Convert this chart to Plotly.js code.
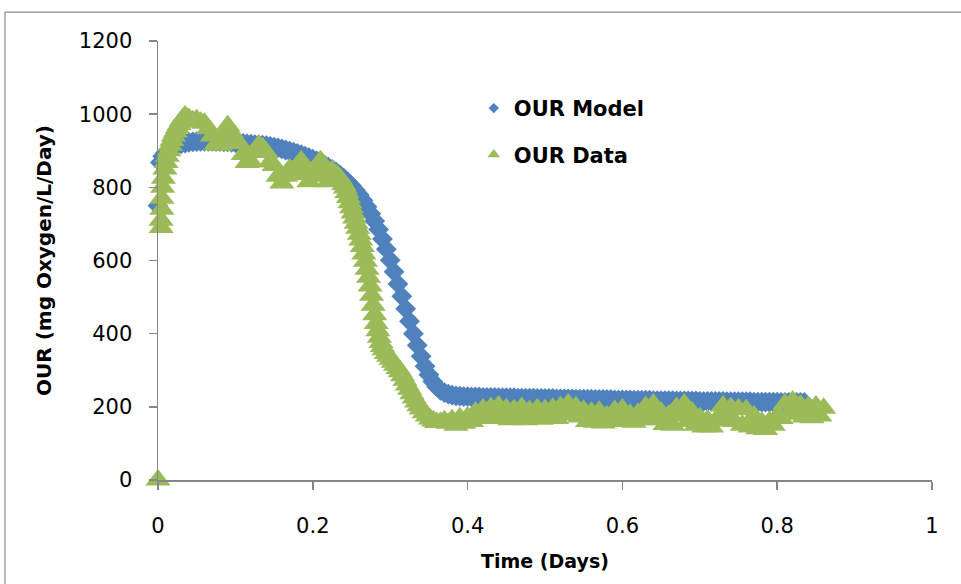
<!DOCTYPE html>
<html>
<head>
<meta charset="utf-8">
<script src="https://cdn.plot.ly/plotly-3.0.1.min.js"></script>
<style>
html,body{margin:0;padding:0;background:#fff;}
#chart{width:961px;height:584px;}
</style>
</head>
<body>
<div id="chart"></div>
<script>
// ---- Data ----
const modelTime = [0,0.003,0.006,0.01,0.015,0.02,0.025,0.03,0.035,0.04,0.045,0.05,0.055,0.06,0.065,0.07,0.075,0.08,0.085,0.09,0.095,0.1,0.105,0.11,0.115,0.12,0.125,0.13,0.135,0.14,0.145,0.15,0.155,0.16,0.165,0.17,0.175,0.18,0.185,0.19,0.195,0.2,0.205,0.21,0.215,0.22,0.225,0.23,0.235,0.24,0.245,0.25,0.255,0.26,0.265,0.27,0.275,0.28,0.285,0.29,0.295,0.3,0.305,0.31,0.315,0.32,0.325,0.33,0.335,0.34,0.345,0.35,0.355,0.36,0.365,0.37,0.375,0.38,0.385,0.39,0.395,0.4,0.405,0.41,0.415,0.42,0.425,0.43,0.435,0.44,0.445,0.45,0.455,0.46,0.465,0.47,0.475,0.48,0.485,0.49,0.495,0.5,0.505,0.51,0.515,0.52,0.525,0.53,0.535,0.54,0.545,0.55,0.555,0.56,0.565,0.57,0.575,0.58,0.585,0.59,0.595,0.6,0.605,0.61,0.615,0.62,0.625,0.63,0.635,0.64,0.645,0.65,0.655,0.66,0.665,0.67,0.675,0.68,0.685,0.69,0.695,0.7,0.705,0.71,0.715,0.72,0.725,0.73,0.735,0.74,0.745,0.75,0.755,0.76,0.765,0.77,0.775,0.78,0.785,0.79,0.795,0.8,0.805,0.81,0.815,0.82,0.825,0.83,0.835,0.84,0.845,0.85,0.855,0.86];
const modelOUR = [750,868,885,895,904,911,916,919,921,923,924,925,926,926,926,926,925,925,924,924,923,922,921,920,919,918,917,916,915,914,912,910,908,905,902,899,896,893,889,885,881,877,872,867,861,855,849,842,834,825,815,804,792,779,764,747,728,708,685,659,631,601,569,536,502,468,434,400,368,338,311,288,269,255,245,239,235,232,230,229,228,228,227,227,227,226,226,226,226,225,225,225,225,225,224,224,224,224,224,223,223,223,223,223,222,222,222,222,222,221,221,221,221,221,220,220,220,220,220,219,219,219,219,219,218,218,218,218,218,217,217,217,217,217,217,216,216,216,216,216,216,215,215,215,215,215,215,215,214,214,214,214,214,214,214,213,213,213,213,213,213,213,212,212,212,212,212,212,212];

const dataTime = [0,0.004,0.004,0.005,0.005,0.006,0.007,0.009,0.0105,0.012,0.014,0.016,0.018,0.02,0.0225,0.025,0.0275,0.03,0.0325,0.035,0.04,0.045,0.05,0.055,0.06,0.065,0.07,0.075,0.08,0.085,0.09,0.095,0.1,0.105,0.11,0.115,0.12,0.125,0.13,0.135,0.14,0.145,0.15,0.155,0.16,0.165,0.17,0.175,0.18,0.185,0.19,0.195,0.2,0.205,0.21,0.215,0.22,0.225,0.23,0.233,0.236,0.24,0.242,0.244,0.246,0.248,0.25,0.252,0.254,0.256,0.258,0.26,0.262,0.264,0.266,0.268,0.27,0.272,0.274,0.276,0.278,0.28,0.282,0.284,0.286,0.288,0.29,0.292,0.295,0.298,0.301,0.304,0.307,0.31,0.313,0.316,0.319,0.322,0.325,0.328,0.331,0.334,0.337,0.34,0.344,0.348,0.352,0.356,0.36,0.365,0.37,0.375,0.38,0.385,0.39,0.395,0.4,0.405,0.41,0.415,0.42,0.425,0.43,0.435,0.44,0.445,0.45,0.455,0.46,0.465,0.47,0.475,0.48,0.485,0.49,0.495,0.5,0.505,0.51,0.515,0.52,0.525,0.53,0.535,0.54,0.545,0.55,0.555,0.56,0.565,0.57,0.575,0.58,0.585,0.59,0.595,0.6,0.605,0.61,0.615,0.62,0.625,0.63,0.635,0.64,0.645,0.65,0.655,0.66,0.665,0.67,0.675,0.68,0.685,0.69,0.695,0.7,0.705,0.71,0.715,0.72,0.725,0.73,0.735,0.74,0.745,0.75,0.755,0.76,0.765,0.77,0.775,0.78,0.785,0.79,0.795,0.8,0.805,0.81,0.815,0.82,0.825,0.83,0.835,0.84,0.845,0.85,0.855,0.86];
const dataOUR = [0,690,710,740,770,800,825,850,868,885,900,915,928,940,951,962,972,982,989,995,988,982,985,978,975,960,940,918,915,940,968,950,930,920,890,868,870,895,915,908,895,870,860,830,812,830,850,835,860,873,840,815,845,830,873,850,815,845,835,830,822,808,798,786,772,758,744,730,716,702,688,672,656,638,618,598,576,554,530,505,478,452,428,408,390,376,365,356,346,338,330,322,314,305,296,285,273,260,248,236,224,213,203,194,184,175,167,161,157,158,162,155,165,150,170,155,172,160,185,168,194,175,198,170,202,168,195,165,192,170,198,165,190,168,195,166,192,170,196,168,200,178,208,180,200,172,190,160,185,158,188,156,175,160,190,165,194,160,180,158,182,165,200,170,208,165,185,152,178,150,198,175,208,160,186,150,170,145,165,145,161,170,202,176,198,160,195,150,192,145,175,140,158,138,160,150,175,168,208,180,216,185,205,172,200,170,202,175,196];

const seriesNames = ['OUR Model', 'OUR Data'];
const xTickVals = [0, 0.2, 0.4, 0.6, 0.8, 1];
const xTickText = ['0', '0.2', '0.4', '0.6', '0.8', '1'];
const yTickVals = [0, 200, 400, 600, 800, 1000, 1200];
const yTickText = ['0', '200', '400', '600', '800', '1000', '1200'];

const blue = '#4F81BD';
const green = '#9BBB59';

const traces = [
  {x: modelTime, y: modelOUR, type: 'scatter', mode: 'markers', name: seriesNames[0],
   showlegend: false, cliponaxis: false,
   marker: {symbol: 'diamond', size: 16, color: blue, line: {width: 0}}},
  {x: dataTime, y: dataOUR, type: 'scatter', mode: 'markers', name: seriesNames[1],
   showlegend: false, cliponaxis: false,
   marker: {symbol: 'triangle-up', size: 22, color: green, line: {width: 0}}},
  // legend-only entries
  {x: [null], y: [null], type: 'scatter', mode: 'markers', name: seriesNames[0], legendgroup: 'a',
   marker: {symbol: 'diamond', size: 8, color: blue}},
  {x: [null], y: [null], type: 'scatter', mode: 'markers', name: seriesNames[1], legendgroup: 'b',
   marker: {symbol: 'triangle-up', size: 11, color: green}}
];

const axisColor = '#868686';
const layout = {
  width: 961, height: 584,
  margin: {l: 158, r: 29, t: 41, b: 104},
  paper_bgcolor: '#ffffff', plot_bgcolor: '#ffffff',
  showlegend: true,
  legend: {x: 0.408, y: 0.893, xanchor: 'left', yanchor: 'top', tracegroupgap: 16,
           bgcolor: 'rgba(0,0,0,0)',
           font: {family: 'DejaVu Sans', size: 21, color: '#000', weight: 'bold'}},
  xaxis: {range: [0, 1], tickmode: 'array', tickvals: xTickVals, ticktext: xTickText,
          showgrid: false, zeroline: false, showline: true, linecolor: axisColor, linewidth: 1.5,
          ticks: 'outside', ticklen: 8, tickcolor: axisColor, tickwidth: 1.5,
          ticklabelstandoff: 18,
          tickfont: {family: 'DejaVu Sans', size: 21, color: '#000'},
          title: {text: 'Time (Days)', standoff: 18,
                  font: {family: 'DejaVu Sans', size: 19, color: '#000', weight: 'bold'}}},
  yaxis: {range: [0, 1200], tickmode: 'array', tickvals: yTickVals, ticktext: yTickText,
          showgrid: false, zeroline: false, showline: true, linecolor: axisColor, linewidth: 1.5,
          ticks: 'outside', ticklen: 8, tickcolor: axisColor, tickwidth: 1.5,
          ticklabelstandoff: 12,
          tickfont: {family: 'DejaVu Sans', size: 21, color: '#000'},
          title: {text: 'OUR (mg Oxygen/L/Day)', standoff: 22,
                  font: {family: 'DejaVu Sans', size: 20, color: '#000', weight: 'bold'}}},
  shapes: [{type: 'rect', xref: 'paper', yref: 'paper', x0: -0.1977, x1: 1.06, y0: -0.3, y1: 1.066,
            line: {color: '#8c8c8c', width: 1.2}, fillcolor: 'rgba(0,0,0,0)', layer: 'below'}]
};

Plotly.newPlot('chart', traces, layout, {displayModeBar: false, staticPlot: true});
</script>
</body>
</html>
